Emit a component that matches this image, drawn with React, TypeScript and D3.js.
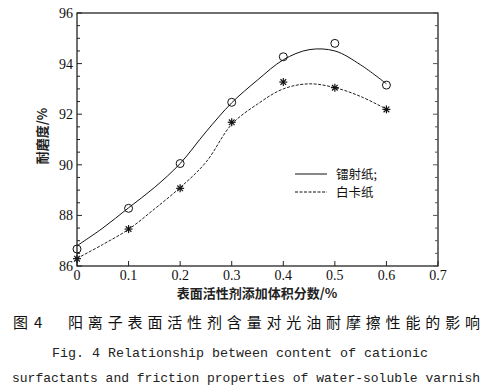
import React, { useEffect, useRef } from "react";
import * as d3 from "d3";

// measured points
const xPoints = [0, 0.1, 0.2, 0.3, 0.4, 0.5, 0.6];
const laserPaper = [86.67, 88.28, 90.05, 92.47, 94.27, 94.8, 93.15];
const cardPaper = [86.29, 87.46, 89.07, 91.68, 93.27, 93.05, 92.19];

// fitted curves
const curveX = [0, 0.05, 0.1, 0.15, 0.2, 0.25, 0.3, 0.35, 0.4, 0.45, 0.5, 0.55, 0.6];
const laserCurve = [86.8, 87.5, 88.3, 89.1, 90.05, 91.3, 92.45, 93.35, 94.15, 94.55, 94.5, 93.95, 93.2];
const cardCurve = [86.3, 86.85, 87.45, 88.25, 89.1, 90.1, 91.6, 92.4, 93.0, 93.2, 93.05, 92.7, 92.2];

const xTicks = [0, 0.1, 0.2, 0.3, 0.4, 0.5, 0.6, 0.7];
const yTicks = [86, 88, 90, 92, 94, 96];

const legendNames = ["镭射纸;", "白卡纸"];

const App = () => {
  const ref = useRef<SVGSVGElement>(null);

  useEffect(() => {
    const svg = d3.select(ref.current);
    svg.selectAll("*").remove();

    const x = d3.scaleLinear().domain([0, 0.7]).range([77, 438]);
    const y = d3.scaleLinear().domain([86, 96]).range([266, 13]);
    const serif = "'Liberation Serif', 'DejaVu Serif', serif";
    const cjk = "'Noto Sans CJK SC', sans-serif";

    const g = svg.append("g");

    // frame
    g.append("rect")
      .attr("x", x(0)).attr("y", y(96))
      .attr("width", x(0.7) - x(0)).attr("height", y(86) - y(96))
      .attr("fill", "none").attr("stroke", "#111").attr("stroke-width", 1.2);

    // ticks (inward)
    const yMinor = d3.range(86, 96.01, 0.5);
    yMinor.forEach((v) => {
      const major = yTicks.includes(Math.round(v * 10) / 10);
      const len = major ? 5 : 3;
      g.append("line").attr("x1", x(0)).attr("x2", x(0) + len)
        .attr("y1", y(v)).attr("y2", y(v)).attr("stroke", "#222");
      g.append("line").attr("x1", x(0.7)).attr("x2", x(0.7) - len)
        .attr("y1", y(v)).attr("y2", y(v)).attr("stroke", "#555");
    });
    xTicks.forEach((v) => {
      g.append("line").attr("x1", x(v)).attr("x2", x(v))
        .attr("y1", y(86)).attr("y2", y(86) - 5).attr("stroke", "#222");
    });

    // tick labels
    g.append("g").selectAll("text").data(yTicks).enter().append("text")
      .attr("x", 73).attr("y", (d) => y(d) + 5)
      .attr("text-anchor", "end")
      .style("font-family", serif).style("font-size", "14px").style("fill", "#111")
      .text((d) => d);
    g.append("g").selectAll("text").data(xTicks).enter().append("text")
      .attr("x", (d) => x(d)).attr("y", 280)
      .attr("text-anchor", "middle")
      .style("font-family", serif).style("font-size", "14px").style("fill", "#111")
      .text((d) => (d === 0 ? "0" : d.toFixed(1)));

    // axis titles
    g.append("text")
      .attr("transform", `translate(47,${136}) rotate(-90)`)
      .attr("text-anchor", "middle")
      .style("font-family", cjk).style("font-size", "13px").style("font-weight", "bold")
      .style("fill", "#222")
      .text("耐磨度/%");
    g.append("text")
      .attr("x", 257).attr("y", 298)
      .attr("text-anchor", "middle")
      .style("font-family", cjk).style("font-size", "13px").style("font-weight", "bold")
      .style("fill", "#222")
      .text("表面活性剂添加体积分数/%");

    // curves
    const line = d3.line<number>()
      .x((d, i) => x(curveX[i]))
      .y((d) => y(d))
      .curve(d3.curveCatmullRom.alpha(0.5));

    g.append("path").attr("d", line(laserCurve))
      .attr("fill", "none").attr("stroke", "#111").attr("stroke-width", 1);
    g.append("path").attr("d", line(cardCurve))
      .attr("fill", "none").attr("stroke", "#222").attr("stroke-width", 1)
      .attr("stroke-dasharray", "3,1.5");

    // markers
    g.append("g").selectAll("circle").data(laserPaper).enter().append("circle")
      .attr("cx", (d, i) => x(xPoints[i])).attr("cy", (d) => y(d))
      .attr("r", 4).attr("fill", "none").attr("stroke", "#111").attr("stroke-width", 1);

    const star = g.append("g").selectAll("g").data(cardPaper).enter().append("g")
      .attr("transform", (d, i) => `translate(${x(xPoints[i])},${y(d)})`);
    [0, 45, 90, 135].forEach((a) => {
      star.append("line")
        .attr("x1", -4).attr("x2", 4).attr("y1", 0).attr("y2", 0)
        .attr("transform", `rotate(${a})`)
        .attr("stroke", "#111").attr("stroke-width", 1.2);
    });

    // legend
    legendNames.forEach((name, i) => {
      const ly = 174 + i * 18;
      g.append("line").attr("x1", 295).attr("x2", 327).attr("y1", ly).attr("y2", ly)
        .attr("stroke", "#111").attr("stroke-width", 1)
        .attr("stroke-dasharray", i === 0 ? null : "3,1.5");
      g.append("text").attr("x", 336).attr("y", ly + 5)
        .style("font-family", cjk).style("font-size", "12.5px").style("fill", "#111")
        .text(name);
    });

    // captions
    g.append("text").attr("x", 13).attr("y", 328)
      .style("font-family", cjk).style("font-size", "15px").style("fill", "#111")
      .text("图");
    g.append("text").attr("x", 34).attr("y", 328)
      .style("font-family", cjk).style("font-size", "15px").style("fill", "#111")
      .text("4");
    g.append("text").attr("x", 68).attr("y", 328)
      .attr("textLength", 412).attr("lengthAdjust", "spacing")
      .style("font-family", cjk).style("font-size", "15px").style("fill", "#111")
      .text("阳离子表面活性剂含量对光油耐摩擦性能的影响");
    g.append("text").attr("x", 52).attr("y", 357)
      .attr("textLength", 376).attr("lengthAdjust", "spacingAndGlyphs")
      .style("font-family", "'Liberation Mono', monospace").style("font-size", "13px").style("fill", "#222")
      .text("Fig. 4  Relationship between content of cationic");
    g.append("text").attr("x", 12).attr("y", 382)
      .attr("textLength", 468).attr("lengthAdjust", "spacingAndGlyphs")
      .style("font-family", "'Liberation Mono', monospace").style("font-size", "13px").style("fill", "#222")
      .text("surfactants and friction properties of water-soluble varnish");
  }, []);

  return (
    <svg
      ref={ref}
      width={492}
      height={392}
      style={{ position: "absolute", left: 0, top: 0, background: "#fff" }}
    />
  );
};

export default App;
